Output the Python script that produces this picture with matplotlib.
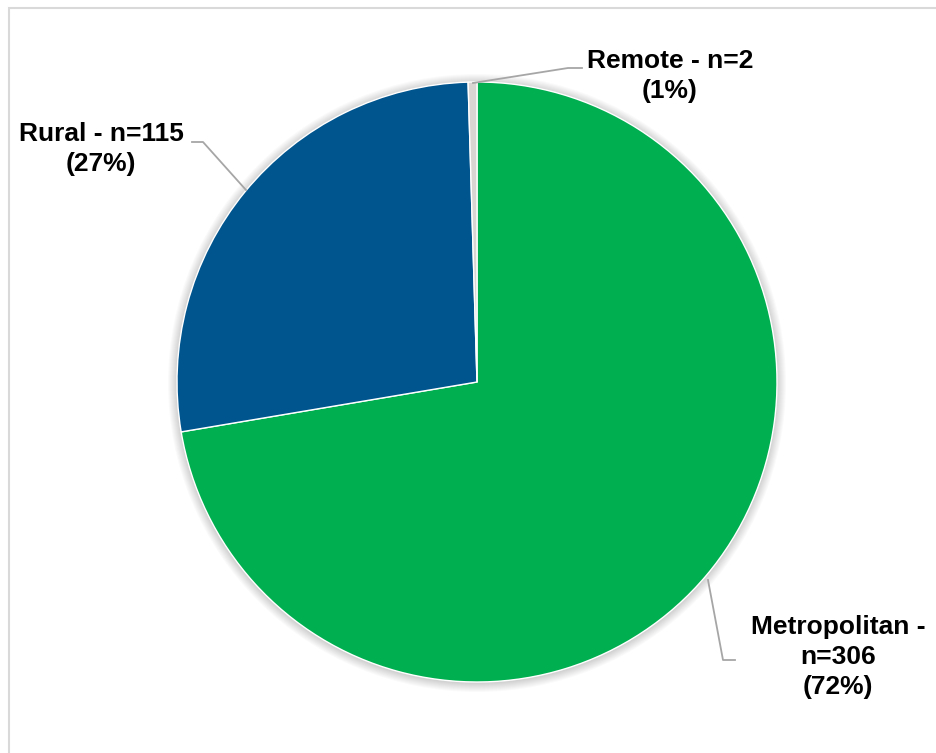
import matplotlib
matplotlib.use("Agg")
import matplotlib.pyplot as plt
from matplotlib.patches import Circle, Rectangle

plt.rcParams['font.family'] = ['Liberation Sans', 'DejaVu Sans']

categories = ["Metropolitan", "Rural", "Remote"]
counts = [306, 115, 2]
percents = ["72%", "27%", "1%"]
colors = ["#00B050", "#00558F", "#D9D5D2"]

W, H = 936, 753
fig = plt.figure(figsize=(W / 100, H / 100), dpi=100)
ax = fig.add_axes([0, 0, 1, 1])
ax.set_xlim(0, W)
ax.set_ylim(0, H)
ax.set_aspect('equal')
ax.axis('off')

def Y(y):
    return H - y

# frame
ax.add_patch(Rectangle((8.5, Y(760)), 1000, 760 - 7.5, fill=False,
                       edgecolor="#D9D9D9", lw=1.5, zorder=0))

cx, cy, r = 477, Y(382), 300

# soft shadow
for k in range(9):
    ax.add_patch(Circle((cx, cy - 1), r + 9 - k, color="#000000",
                        alpha=0.02, lw=0, zorder=1))

ax.pie(counts, colors=colors, startangle=90, counterclock=False,
       center=(cx, cy), radius=r, frame=True,
       wedgeprops=dict(edgecolor="white", linewidth=1.0, zorder=2))
ax.set_xlim(0, W)
ax.set_ylim(0, H)
ax.axis('off')

lc = "#A6A6A6"
fs = 19
tkw = dict(fontsize=fs, fontweight='bold', ha='center', va='center',
           linespacing=1.33, color="#000000", zorder=5)

# Remote
ax.plot([473, 568, 582], [Y(83), Y(68), Y(68)], color=lc, lw=1.3, zorder=4)
ax.text(670, Y(76), f"{categories[2]} - n={counts[2]}\n({percents[2]})", **tkw)

# Rural
ax.plot([246, 203, 192], [Y(190), Y(142), Y(142)], color=lc, lw=1.3, zorder=4)
ax.text(101, Y(149), f"{categories[1]} - n={counts[1]}\n({percents[1]})", **tkw)

# Metropolitan
ax.plot([708, 723, 735], [Y(580), Y(660), Y(660)], color=lc, lw=1.3, zorder=4)
ax.text(838, Y(657), f"{categories[0]} -\nn={counts[0]}\n({percents[0]})", **tkw)

fig.savefig("out.png", dpi=100)
